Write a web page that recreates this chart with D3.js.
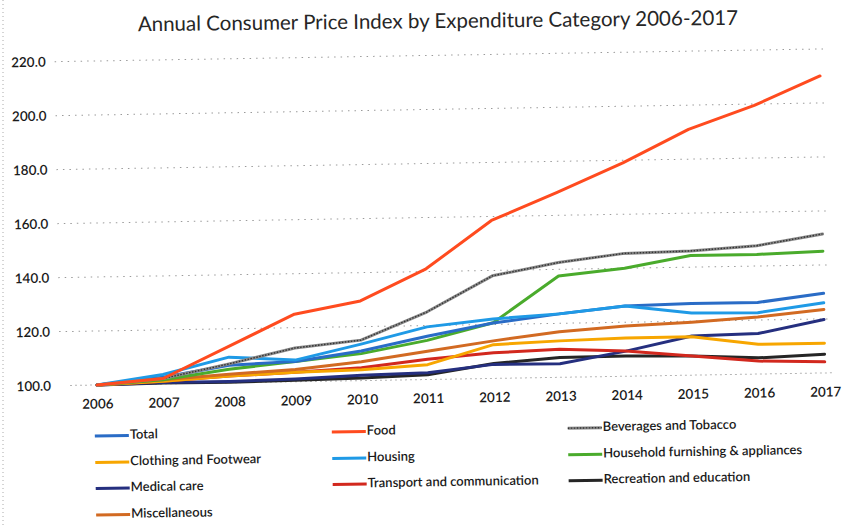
<!DOCTYPE html>
<html><head><meta charset="utf-8">
<script src="https://cdn.jsdelivr.net/npm/d3@7"></script>
<style>
html,body{margin:0;padding:0;background:#fff;}
svg{display:block;}
text{font-family:Lato,"Open Sans",sans-serif;fill:#1a1a1a;}
</style></head><body>
<svg id="chart" width="844" height="526"></svg>
<script>
const years = [2006,2007,2008,2009,2010,2011,2012,2013,2014,2015,2016,2017];
const yTicks = [100,120,140,160,180,200,220];
const seriesNames = ["Total","Food","Beverages and Tobacco","Clothing and Footwear","Housing","Household furnishing & appliances","Medical care","Transport and communication","Recreation and education","Miscellaneous"];
const total      = [100,102.5,106.5,107.5,111,116,120.5,123.5,126,126.5,126.5,129.5];
const food       = [100,102,113.5,125,129.5,141,158.5,168.5,179,191,199.5,210];
const beverages  = [100,102,107,112.5,115,125,138,142.5,145.5,146,147.5,151.5];
const clothing   = [100,101,102.5,103.5,104,105.5,112.5,113.5,114.2,114.2,111,111];
const housing    = [100,103.5,109.5,108,113.5,119.5,122,123.5,126,123,122.7,126];
const household  = [100,101.5,105,107.5,110,114.5,120.6,137.5,140,144.3,144.3,145.1];
const medical    = [100,100.5,100.5,101,102,102.5,105.2,105,109.3,114.5,115,119.8];
const transport  = [100,101,102.5,103.5,104.8,107.5,109.5,110.4,109.3,107.1,104.8,104.1];
const recreation = [100,100.3,100.2,100.5,101,101.8,105.5,107.3,107.5,107.1,106,106.9];
const misc       = [100,101.5,103.2,104.5,107,110.5,113.9,116.9,118.6,119.6,121.1,123.5];

const seriesValues = [total,food,beverages,clothing,housing,household,medical,transport,recreation,misc];
const colors = ["#2a6cc6","#ff4b1f","#8a8a8a","#f7a600","#1f9ae6","#4aab2c","#252f7f","#d2281e","#252525","#d26a22"];
// legend grid: [column,row]
const legendPos = [[0,0],[1,0],[2,0],[0,1],[1,1],[2,1],[0,2],[1,2],[2,2],[0,3]];
const drawOrder = [8,6,7,3,9,5,0,4,2,1];

const svg = d3.select("#chart");
const W = 844, H = 526;

// title
svg.append("text").attr("x",438).attr("y",28).attr("text-anchor","middle")
  .attr("transform","rotate(-0.6,438,28)")
  .style("font-size","20.5px").style("fill","#262626")
  .text("Annual Consumer Price Index by Expenditure Category 2006-2017");

// left border of scanned chart area
svg.append("line").attr("x1",3).attr("x2",3).attr("y1",0).attr("y2",526)
  .attr("stroke","#aaa").attr("stroke-width",1).attr("stroke-dasharray","1,3");

const g = svg.append("g").attr("transform","rotate(-0.95,97,385)");

const x = d3.scaleLinear().domain([2006,2017]).range([97,825]);
const y = d3.scaleLinear().domain([100,220]).range([385,61]);

// gridlines
g.append("g").selectAll("line").data(yTicks.filter(d=>d>100)).join("line")
  .attr("x1",60).attr("x2",832).attr("y1",d=>y(d)).attr("y2",d=>y(d))
  .attr("stroke","#9a9a9a").attr("stroke-width",1).attr("stroke-dasharray","1.5,5");
g.append("line").attr("x1",70).attr("x2",832).attr("y1",y(100)).attr("y2",y(100))
  .attr("stroke","#b5b5b5").attr("stroke-width",1).attr("stroke-dasharray","2,3");

// y axis labels
const yAxis = d3.axisLeft(y).tickValues(yTicks).tickFormat(d3.format(".1f")).tickSize(0).tickPadding(0);
const ya = g.append("g").attr("transform","translate(51,0)").call(yAxis);
ya.select(".domain").remove();
ya.selectAll("text").style("font-size","13.5px").style("font-family","Lato,sans-serif").style("fill","#1a1a1a").style("font-weight","600");

// x axis labels
const xAxis = d3.axisBottom(x).tickValues(years).tickFormat(d3.format("d")).tickSize(0).tickPadding(0);
const xa = g.append("g").attr("transform","translate(0,399)").call(xAxis);
xa.select(".domain").remove();
xa.selectAll("text").style("font-size","13.5px").style("font-family","Lato,sans-serif").style("fill","#1a1a1a").style("font-weight","600");

// lines
const line = d3.line().x((d,i)=>x(years[i])).y(d=>y(d)).curve(d3.curveLinear);
const lg = g.append("g").attr("fill","none").attr("stroke-linejoin","round").attr("stroke-linecap","round");
drawOrder.forEach(k=>{
  lg.append("path").attr("d",line(seriesValues[k])).attr("stroke",colors[k]).attr("stroke-width",3);
  if(k===2){
    lg.append("path").attr("d",line(seriesValues[k])).attr("stroke","#333").attr("stroke-width",1.4)
      .attr("stroke-dasharray","1.5,1.5").attr("stroke-linecap","butt");
  }
});

// legend
const colX = [94,331,567];
const rowY = [436,462.5,488.5,515];
const leg = g.append("g");
seriesNames.forEach((name,k)=>{
  const [c,r] = legendPos[k];
  const lx = colX[c], ly = rowY[r];
  leg.append("line").attr("x1",lx).attr("x2",lx+34).attr("y1",ly).attr("y2",ly)
    .attr("stroke",colors[k]).attr("stroke-width",3);
  if(k===2){
    leg.append("line").attr("x1",lx).attr("x2",lx+34).attr("y1",ly).attr("y2",ly)
      .attr("stroke","#333").attr("stroke-width",1.4).attr("stroke-dasharray","1.5,1.5");
  }
  leg.append("text").attr("x",lx+35).attr("y",ly).attr("dominant-baseline","middle")
    .style("font-size","13px").style("font-weight","600").text(name);
});
</script>
</body></html>
